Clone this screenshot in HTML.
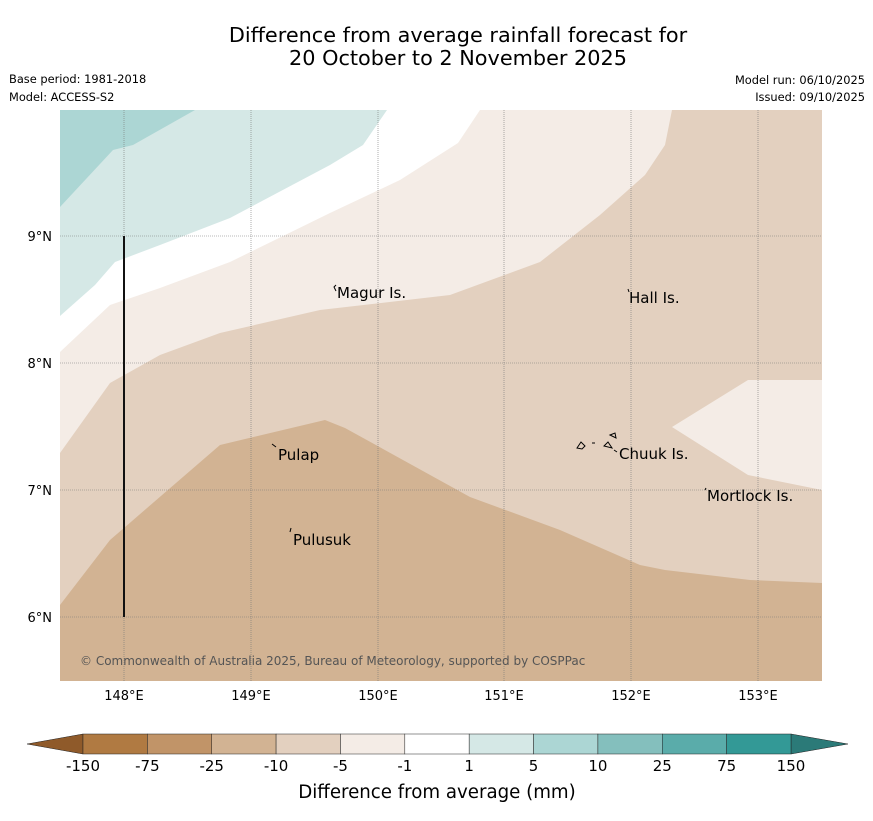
<!DOCTYPE html>
<html><head><meta charset="utf-8"><style>
body{margin:0;background:#fff;font-family:"Liberation Sans","DejaVu Sans",sans-serif;}
svg text{font-family:"DejaVu Sans","Liberation Sans",sans-serif;}
</style></head><body>
<svg width="873" height="816" xmlns="http://www.w3.org/2000/svg">
<text x="458" y="42" font-size="20.8" text-anchor="middle">Difference from average rainfall forecast for</text>
<text x="458" y="65" font-size="20.8" text-anchor="middle">20 October to 2 November 2025</text>
<text x="9" y="83" font-size="11.4">Base period: 1981-2018</text>
<text x="9" y="101" font-size="11.4">Model: ACCESS-S2</text>
<text x="865" y="84" font-size="11.4" text-anchor="end">Model run: 06/10/2025</text>
<text x="865" y="101" font-size="11.4" text-anchor="end">Issued: 09/10/2025</text>
<defs><clipPath id="mc"><rect x="60" y="110" width="762" height="571"/></clipPath></defs>
<g clip-path="url(#mc)">
<rect x="60" y="110" width="762" height="571" fill="#e3d0bf"/>
<polygon fill="#f4ece6" points="60,110 672,110 665,145 645,175 600,215 540,262 450,295 320,310 220,333 160,355 110,383 60,453"/>
<polygon fill="#ffffff" points="60,110 480,110 458,143 400,180 330,213 230,262 160,288 110,305 60,352"/>
<polygon fill="#d5e8e6" points="60,110 387,110 363,145 330,165 230,218 160,245 115,262 95,285 60,316"/>
<polygon fill="#acd6d4" points="60,110 195,110 133,145 113,150 60,207"/>
<polygon fill="#f4ece6" points="822,380 748,380 672,427 748,475 822,490"/>
<polygon fill="#d2b393" points="60,605 110,540 220,445 325,420 345,428 470,497 560,530 640,565 665,570 750,580 822,583 822,681 60,681"/>
<g stroke="#777" stroke-width="0.6" stroke-dasharray="1,1">
<line x1="124" y1="110" x2="124" y2="681"/><line x1="251" y1="110" x2="251" y2="681"/><line x1="378" y1="110" x2="378" y2="681"/><line x1="504" y1="110" x2="504" y2="681"/><line x1="631" y1="110" x2="631" y2="681"/><line x1="758" y1="110" x2="758" y2="681"/>
<line x1="60" y1="236" x2="822" y2="236"/><line x1="60" y1="363" x2="822" y2="363"/><line x1="60" y1="490" x2="822" y2="490"/><line x1="60" y1="617" x2="822" y2="617"/>
</g>
<line x1="124" y1="236" x2="124" y2="617" stroke="#111" stroke-width="2"/>
<g font-size="15" fill="#000">
<text x="337" y="298">Magur Is.</text><text x="629" y="303">Hall Is.</text><text x="278" y="460">Pulap</text>
<text x="619" y="459">Chuuk Is.</text><text x="707" y="501">Mortlock Is.</text><text x="293" y="545">Pulusuk</text>
</g>
<g fill="none" stroke="#000" stroke-width="1">
<path d="M336,291 l-2,-4 2,-2"/><path d="M629,292 l-1,-3"/><path d="M272,444 l4,3"/><path d="M290,532 l1,-4"/><path d="M705,490 l1,-2"/>
<path d="M577,448 l4,-6 4,4 -3,3z"/><path d="M592,443 l3,0"/><path d="M604,446 l4,-4 4,6z"/><path d="M610,435 l5,-2 1,5z"/><path d="M614,450 l3,2"/>
</g>
<text x="80" y="665" font-size="12" fill="#555">© Commonwealth of Australia 2025, Bureau of Meteorology, supported by COSPPac</text>
</g>
<g font-size="13">
<text x="52" y="241" text-anchor="end">9°N</text><text x="52" y="368" text-anchor="end">8°N</text><text x="52" y="495" text-anchor="end">7°N</text><text x="52" y="622" text-anchor="end">6°N</text>
</g>
<g font-size="13" text-anchor="middle">
<text x="124" y="700">148°E</text><text x="251" y="700">149°E</text><text x="378" y="700">150°E</text><text x="504" y="700">151°E</text><text x="631" y="700">152°E</text><text x="758" y="700">153°E</text>
</g>
<g id="cb"></g>
<text x="437" y="798" font-size="18.2" text-anchor="middle">Difference from average (mm)</text>
</svg>
<script>
const cbColors=["#b07a42","#c19468","#d2b393","#e3d0bf","#f4ece6","#ffffff","#d5e8e6","#acd6d4","#84bfbd","#5aacaa","#339996"];
const cbTicks=["-150","-75","-25","-10","-5","-1","1","5","10","25","75","150"];
const ns="http://www.w3.org/2000/svg";
const cb=document.getElementById('cb');
const x0=83,x1=791,y0=734,h=20,w=(x1-x0)/cbColors.length;
function mk(t,a){const e=document.createElementNS(ns,t);for(const k in a)e.setAttribute(k,a[k]);cb.appendChild(e);return e;}
const l=mk('polygon',{points:`27,744 ${x0},${y0} ${x0},${y0+h}`,fill:'#8f5a2a',stroke:'#222','stroke-width':0.5});


const r=mk('polygon',{points:`848,744 ${x1},${y0} ${x1},${y0+h}`,fill:'#2b7a78',stroke:'#222','stroke-width':0.5});


cbColors.forEach((c,i)=>{
 const b=mk('rect',{x:x0+i*w,y:y0,width:w,height:h,fill:c,stroke:'#222','stroke-width':0.5});
 
 
});
cbTicks.forEach((t,i)=>{
 const e=mk('text',{x:x0+i*w,y:771,'font-size':15,'text-anchor':'middle'});
 e.textContent=t;
 
 
});
</script>
</body></html>
